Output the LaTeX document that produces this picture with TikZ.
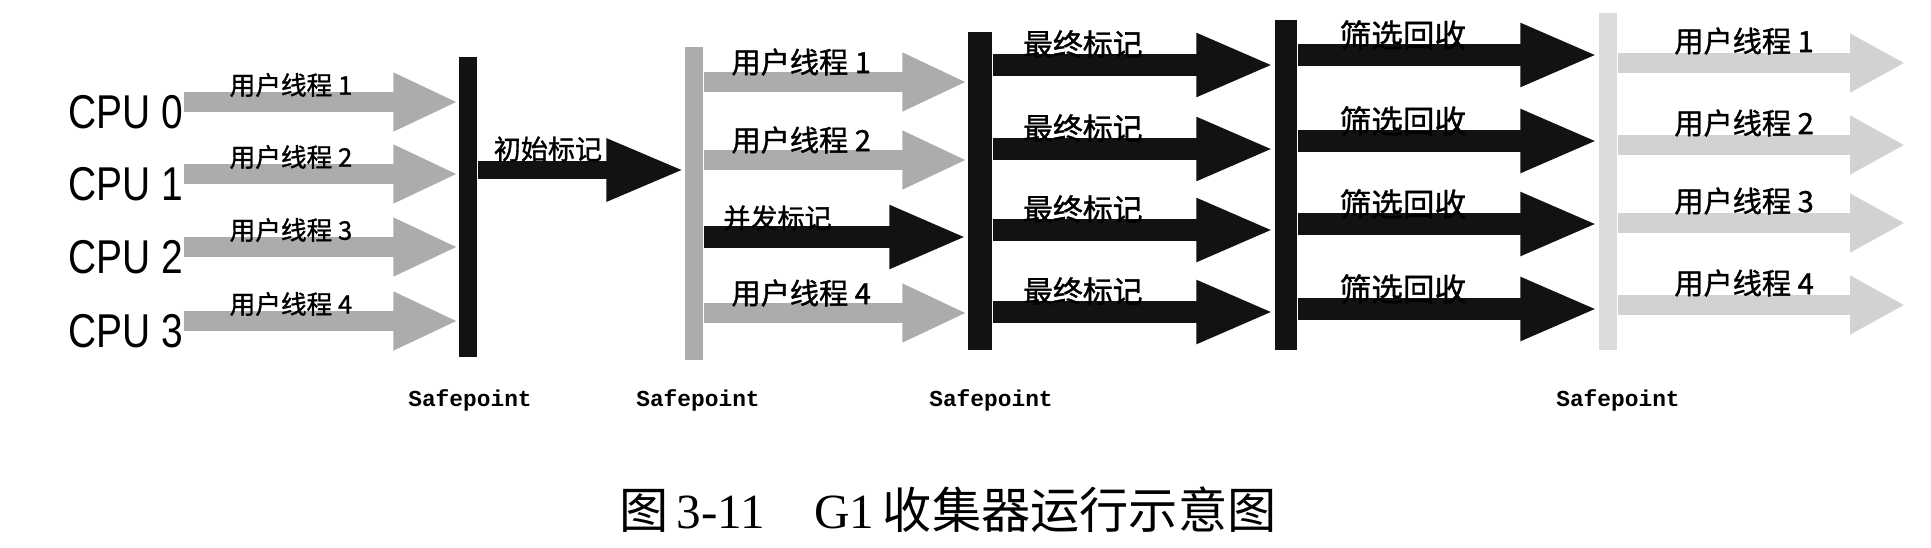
\documentclass[tikz,border=0pt]{standalone}
\usepackage{fontspec}
\setmainfont{Liberation Serif}
\newfontfamily\cjk{Noto Sans CJK SC}
\newfontfamily\cjklbl[FakeBold=1.2]{Noto Sans CJK SC}
\newfontfamily\cpufont[FakeStretch=0.82]{Liberation Sans}
\newfontfamily\spfont{Liberation Mono}
\usetikzlibrary{arrows.meta,positioning}

\definecolor{thrgray}{RGB}{172,172,172}
\definecolor{thrlight}{RGB}{210,210,210}
\definecolor{barlight}{RGB}{220,220,220}
\definecolor{ink}{RGB}{18,18,18}

\tikzset{
	bar/.style={draw=none, inner sep=0},
	grayarrow/.style={line width=2mm, thrgray, -{Triangle[length=6.5mm,width=5.4mm]}},
	blackarrow/.style={line width=2.2mm, ink, -{Triangle[length=7.8mm,width=5.8mm]}},
	lightarrow/.style={line width=2mm, thrlight, -{Triangle[length=5.5mm,width=5.5mm]}},
	lbl/.style={font=\cjklbl\fontsize{#1}{#1}\selectfont, text=black, inner sep=0},
	lbl/.default=8.3,
	cpulbl/.style={font=\cpufont\fontsize{13.5}{13.5}\selectfont, inner sep=0},
	sptext/.style={font=\spfont\bfseries\fontsize{6.5}{6.5}\selectfont, inner sep=0},
}

\begin{document}
\begin{tikzpicture}[x=0.1mm, y=-0.1mm, line join=round]
	\useasboundingbox (0,0) rectangle (1931,547);
	% safepoint bars
	\node[bar, fill=ink, minimum width=1.8mm, minimum height=30mm] (sp1) at (468,207) {};
	\node[bar, fill=thrgray, minimum width=1.8mm, minimum height=31.3mm] (sp2) at (694,203.5) {};
	\node[bar, fill=ink, minimum width=2.4mm, minimum height=31.8mm] (sp3) at (980,191) {};
	\node[bar, fill=ink, minimum width=2.2mm, minimum height=33mm] (sp4) at (1286,185) {};
	\node[bar, fill=barlight, minimum width=1.8mm, minimum height=33.7mm] (sp5) at (1608,181.5) {};
	\foreach \p/\x in {sp1/470,sp2/698,sp3/991,sp5/1618}
	\node[sptext] (\p l) at (\x,400) {Safepoint};
	
	% user threads before the first pause
	\foreach \i/\y in {0/112,1/184,2/257,3/331}{
		\node[cpulbl] (cpu\i) at (126,\y) {CPU \i};
		\pgfmathtruncatemacro\n{\i+1}
		\coordinate (s\i) at ([yshift=1mm]cpu\i.east);
		\draw[grayarrow] (s\i) -- (s\i -| sp1.west)
		node[lbl=7.3, pos=0.39, yshift=1.7mm] {用户线程 \n};
	}
	
	% initial mark
	\draw[blackarrow, line width=1.8mm] (sp1.east |- 0,170) -- (sp2.west |- 0,170)
	node[lbl=7.7, pos=0.34, yshift=2.1mm] {初始标记};
	
	% concurrent mark
	\foreach \y/\n in {82/1,160/2,313/4}
	\draw[grayarrow] (sp2.east |- 0,\y) -- (sp3.west |- 0,\y)
	node[lbl, pos=0.37, yshift=2mm] {用户线程 \n};
	\draw[blackarrow] (sp2.east |- 0,237) -- (sp3.west |- 0,237)
	node[lbl=7.7, pos=0.28, yshift=1.9mm] {并发标记};
	
	% final mark
	\foreach \y in {65,149,230,312}
	\draw[blackarrow] (sp3.east |- 0,\y) -- (sp4.west |- 0,\y)
	node[lbl=8.5, pos=0.32, yshift=2.1mm] {最终标记};
	
	% live data counting and evacuation
	\foreach \y in {55,141,224,309}
	\draw[blackarrow] (sp4.east |- 0,\y) -- (sp5.west |- 0,\y)
	node[lbl=9, pos=0.35, yshift=2mm] {筛选回收};
	
	% user threads again
	\foreach \y/\n in {63/1,145/2,223/3,305/4}{
		\coordinate (e\n) at (1905,\y);
		\draw[lightarrow] (sp5.east |- e\n) -- (e\n)
		node[lbl, pos=0.44, yshift=2.2mm] {用户线程 \n};
	}
	
	\node[font=\fontsize{14}{14}\selectfont] (cap) at (948,510)
	{{\cjk 图}\,3-11\quad G1\,{\cjk 收集器运行示意图}};
\end{tikzpicture}
\end{document}
